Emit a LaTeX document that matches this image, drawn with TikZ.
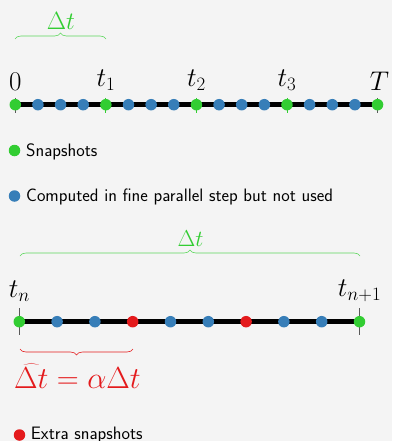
\RequirePackage{fix-cm}
\documentclass[tikz,border=0pt]{standalone}
\usetikzlibrary{decorations.pathreplacing}
\definecolor{sgreen}{RGB}{50,205,50}
\definecolor{sblue}{RGB}{55,126,184}
\definecolor{sred}{RGB}{228,26,28}
\definecolor{bgc}{RGB}{244,244,244}
\begin{document}
\begin{tikzpicture}[x=1pt,y=-1pt,
  dot/.style={circle,inner sep=0pt,minimum size=11.5pt},
  gdot/.style={dot,fill=sgreen},
  bdot/.style={dot,fill=sblue},
  rdot/.style={dot,fill=sred},
  lab/.style={inner sep=0pt,font=\fontsize{27}{30}\selectfont},
  leg/.style={anchor=base west,inner sep=0pt,font=\sffamily\fontsize{18}{21}\selectfont},
  tickd/.style={line width=0.8pt,draw=black!65},
  tickg/.style={line width=0.8pt,draw=sgreen},
  axis/.style={line width=4.6pt,draw=black},
  gbrace/.style={decorate,decoration={brace,amplitude=6pt},draw=sgreen!80,line width=0.6pt},
  rbrace/.style={decorate,decoration={brace,mirror,amplitude=6pt},draw=sred,line width=0.6pt}]
\fill[bgc] (0,0) rectangle (392,441);
\useasboundingbox (0,0) rectangle (392,441);

% ---- top timeline
\foreach \i in {0,...,16} {\coordinate (p\i) at ({15.3+22.64*\i},104.7);}
\draw[axis] (p0) -- (p16);
\draw[tickd] (p0) ++(0,-6.7) -- ++(0,15);
\draw[tickd] (p16) ++(0,-6.7) -- ++(0,15);
\foreach \i in {4,8,12} {\draw[tickg] (p\i) ++(0,-6.7) -- ++(0,15);}
\foreach \i in {1,2,3,5,6,7,9,10,11,13,14,15} {\node[bdot] (d\i) at (p\i) {};}
\foreach \i in {0,4,8,12,16} {\node[gdot] (d\i) at (p\i) {};}
\node[lab,anchor=south] (l0) at ([yshift=13.7pt]p0) {$0$};
\node[lab,anchor=south] (l1) at ([yshift=13.7pt]p4) {$t_1$};
\node[lab,anchor=south] (l2) at ([yshift=13.7pt]p8) {$t_2$};
\node[lab,anchor=south] (l3) at ([yshift=13.7pt]p12) {$t_3$};
\node[lab,anchor=south] (lT) at ([yshift=13.7pt,xshift=2pt]p16) {$T$};

\coordinate (b1a) at (15,39);
\coordinate (b1b) at (106,39);
\draw[gbrace] (b1a) -- (b1b);
\node[lab,anchor=south,text=sgreen,font=\fontsize{25}{28}\selectfont] (dt1) at (61,29.5) {$\Delta t$};

% ---- legend 1
\node[gdot] (lg) at (14.5,150.5) {};
\node[leg] (lgt) at (26,156) {Snapshots};
\node[bdot] (lb) at (14.5,196) {};
\node[leg] (lbt) at (26,201.7) {Computed in fine parallel step but not used};

% ---- second timeline
\foreach \i in {0,...,9} {\coordinate (q\i) at ({19.3+37.8*\i},321.7);}
\draw[axis] (q0) -- (q9);
\draw[tickd] (q0) ++(0,-13.7) -- ++(0,27);
\draw[tickd] (q9) ++(0,-13.7) -- ++(0,27);
\foreach \i in {1,2,4,5,7,8} {\node[bdot] (e\i) at (q\i) {};}
\foreach \i in {3,6} {\node[rdot] (e\i) at (q\i) {};}
\foreach \i in {0,9} {\node[gdot] (e\i) at (q\i) {};}
\node[lab,anchor=south] (ln) at ([yshift=19.7pt]q0) {$t_n$};
\node[lab,anchor=south] (ln1) at ([yshift=19.7pt]q9) {$t_{n+1}$};

\coordinate (b2a) at (20,256);
\coordinate (b2b) at (360,256);
\draw[gbrace] (b2a) -- (b2b);
\node[lab,anchor=south,text=sgreen,font=\fontsize{23}{26}\selectfont] (dt2) at (190.5,246.7) {$\Delta t$};

\coordinate (b3a) at (20,349);
\coordinate (b3b) at (133,349);
\draw[rbrace] (b3a) -- (b3b);
\node[lab,anchor=base west,text=sred,font=\fontsize{29}{32}\selectfont] (dth) at (14,388) {\scalebox{1.05}{$\widehat{\Delta t}=\alpha\Delta t$}};

% ---- legend 2
\node[rdot] (lr) at (19.5,435) {};
\node[leg] (lrt) at (30.7,439.5) {Extra snapshots};
\end{tikzpicture}
\end{document}
